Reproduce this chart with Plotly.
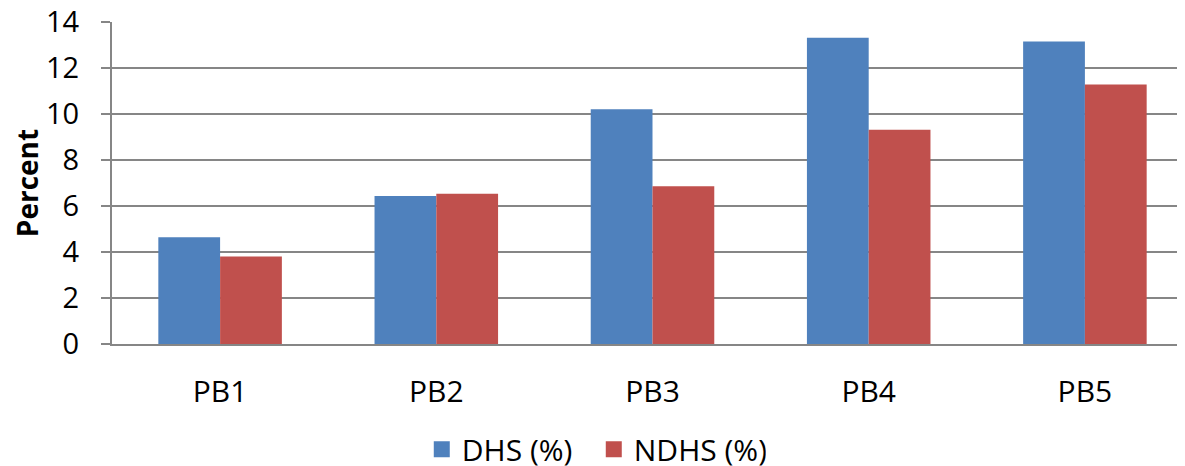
import plotly.graph_objects as go

categories = ["PB1", "PB2", "PB3", "PB4", "PB5"]
dhs = [4.64, 6.44, 10.21, 13.31, 13.15]
ndhs = [3.80, 6.53, 6.86, 9.31, 11.28]
series_names = ["DHS (%)", "NDHS (%)"]
colors = ["#4F81BD", "#C0504D"]
y_ticks = [0, 2, 4, 6, 8, 10, 12, 14]

FONT = "Open Sans"
GRID = "#868686"

fig = go.Figure()
for name, vals, col in zip(series_names, [dhs, ndhs], colors):
    fig.add_trace(go.Bar(x=categories, y=vals, name=name, marker=dict(color=col, line=dict(width=0)),
                         showlegend=False))
# legend proxies with larger square swatches
for name, col in zip(series_names, colors):
    fig.add_trace(go.Scatter(x=[None], y=[None], mode="markers", name=name,
                             marker=dict(symbol="square", size=16, color=col)))

# page has an 8px body margin, so the figure is sized 8px smaller
fig.update_layout(
    width=1177, height=458,
    margin=dict(l=104, r=0, t=14, b=122, pad=0, autoexpand=False),
    paper_bgcolor="white", plot_bgcolor="white",
    barmode="group", bargap=0.4286, bargroupgap=0,
    font=dict(family=FONT, color="black", size=30),
    legend=dict(orientation="h", x=0.449, xanchor="center", y=-0.327, yanchor="middle",
                font=dict(size=30, family=FONT), itemsizing="trace", traceorder="normal",
                entrywidth=127, entrywidthmode="pixels"),
)
fig.update_xaxes(
    type="category", range=[-0.5, 4.463], automargin=False,
    showgrid=False, showline=True, linecolor=GRID, linewidth=2,
    ticks="", ticklabelstandoff=20,
    tickfont=dict(size=30, family=FONT),
)
fig.update_yaxes(
    range=[0, 14], tickvals=y_ticks, automargin=False,
    showgrid=True, gridcolor=GRID, gridwidth=2,
    showline=True, linecolor=GRID, linewidth=2,
    ticks="outside", ticklen=9, tickwidth=2, tickcolor=GRID,
    ticklabelstandoff=16, ticklabeloverflow="allow",
    tickfont=dict(size=29, family=FONT),
    zeroline=False,
    title=dict(text="<b>Percent</b>", font=dict(size=28, family=FONT), standoff=20),
)

fig.write_html("out.html")
